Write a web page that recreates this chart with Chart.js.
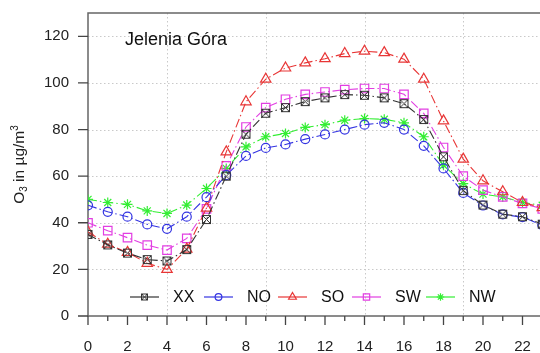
<!DOCTYPE html>
<html>
<head>
<meta charset="utf-8">
<script src="https://cdn.jsdelivr.net/npm/chart.js@4"></script>
<style>
  body { margin: 0; background: #fff; overflow: hidden; }
  #wrap { width: 540px; height: 353px; overflow: hidden; }
  canvas { display: block; }
</style>
</head>
<body>
<div id="wrap"><canvas id="chart" width="580" height="353"></canvas></div>
<script>
const STATION = 'Jelenia Góra';
const HOURS = [0, 1, 2, 3, 4, 5, 6, 7, 8, 9, 10, 11, 12, 13, 14, 15, 16, 17, 18, 19, 20, 21, 22, 23];
const Y_TICKS = [0, 20, 40, 60, 80, 100, 120];
const GRID_HOURS = [4, 9, 14, 19, 24];

// mean O3 per hour of day, by wind sector
const SECTORS = ['XX', 'NO', 'SO', 'SW', 'NW'];
const XX = [35, 30.5, 27, 24.2, 23.6, 28.5, 41.4, 60, 78, 87, 89.4, 92, 93.6, 95, 94.7, 93.6, 91.1, 84.3, 68.3, 53.8, 47.6, 43.7, 42.6, 39.4];
const NO = [47.5, 44.7, 42.6, 39.3, 37.4, 42.6, 51, 60.4, 68.7, 72.1, 73.6, 75.9, 77.9, 80, 82.1, 82.9, 80, 73, 63.3, 52.8, 47.4, 43.6, 42.4, 39];
const SO = [36, 30.8, 27.3, 22.6, 20, 28.7, 46.3, 70.4, 91.9, 101.6, 106.4, 108.6, 110.4, 112.6, 113.6, 113, 110.2, 101.6, 83.7, 67.3, 58, 53.3, 48.7, 46.5];
const SW = [40, 36.6, 33.6, 30.4, 28.3, 33.3, 46, 64.4, 81.1, 89.4, 93, 95.1, 96.1, 97.1, 97.6, 97.6, 95.1, 86.9, 72.3, 60, 54, 51.1, 48.3, 46];
const NW = [50, 48.7, 47.9, 45.1, 44, 47.6, 54.7, 63.3, 72.6, 76.9, 78.3, 80.9, 82.1, 84, 84.7, 84.4, 82.9, 76.9, 64.7, 56.8, 52.3, 51.1, 48.7, 47.5];
const VALUES = [XX, NO, SO, SW, NW];

const FONT = "'Liberation Sans', Arial, Helvetica, sans-serif";
const COLORS = ['#333333', '#3434e2', '#e83636', '#e23ee2', '#33ee33'];
const RADII = [5, 4.5, 6, 6, 5];

// square with a cross in it (R's pch 7)
function crossedSquare(side, color) {
    const c = document.createElement('canvas');
    c.width = c.height = side + 3;
    const g = c.getContext('2d');
    g.strokeStyle = color;
    g.lineWidth = 1;
    const a = 1.5, b = side + 1.5;
    g.strokeRect(a, a, side, side);
    g.beginPath();
    g.moveTo(a, a); g.lineTo(b, b);
    g.moveTo(b, a); g.lineTo(a, b);
    g.stroke();
    return c;
}

const STYLES = [crossedSquare(8, COLORS[0]), 'circle', 'triangle', 'rect', 'star'];
const LEGEND_STYLES = [crossedSquare(6, COLORS[0]), 'circle', 'triangle', 'rect', 'star'];

function buildDataset(k) {
    return {
        label: SECTORS[k],
        data: VALUES[k].map((v, i) => ({x: HOURS[i], y: v})),
        borderColor: COLORS[k],
        backgroundColor: 'rgba(0,0,0,0)',
        borderWidth: 1.1,
        borderDash: [9, 3, 1.5, 3],
        pointStyle: STYLES[k],
        pointRadius: RADII[k],
        pointBorderWidth: 1.2,
        pointBorderColor: COLORS[k],
        pointBackgroundColor: 'rgba(0,0,0,0)',
        tension: 0,
    };
}

// dotted grid, box and tick marks under the series
const backdrop = {
    id: 'backdrop',
    beforeDatasetsDraw(chart) {
        const {ctx, chartArea: a, scales: {x, y}} = chart;
        ctx.save();
        ctx.strokeStyle = '#c9c9c9';
        ctx.lineWidth = 1;
        ctx.setLineDash([1.5, 2.5]);
        ctx.beginPath();
        for (const v of Y_TICKS.slice(1)) {
            const py = Math.round(y.getPixelForValue(v)) + 0.5;
            ctx.moveTo(a.left, py); ctx.lineTo(a.right, py);
        }
        for (const h of GRID_HOURS) {
            const px = Math.round(x.getPixelForValue(h)) + 0.5;
            ctx.moveTo(px, a.top); ctx.lineTo(px, a.bottom);
        }
        ctx.stroke();
        ctx.setLineDash([]);

        ctx.strokeStyle = '#666';
        ctx.lineWidth = 1.5;
        ctx.strokeRect(a.left, a.top, a.right - a.left, a.bottom - a.top);

        ctx.strokeStyle = '#444';
        ctx.lineWidth = 1.3;
        ctx.beginPath();
        for (const v of Y_TICKS) {
            const py = y.getPixelForValue(v);
            ctx.moveTo(a.left - 10, py); ctx.lineTo(a.left, py);
        }
        for (const h of HOURS) {
            const px = x.getPixelForValue(h);
            ctx.moveTo(px, a.bottom); ctx.lineTo(px, a.bottom + (h % 2 ? 5 : 9));
        }
        ctx.stroke();
        ctx.restore();
    }
};

// station name, legend row and y axis title
const annotations = {
    id: 'annotations',
    afterDraw(chart) {
        const {ctx, chartArea: a} = chart;
        ctx.save();
        ctx.fillStyle = '#111';
        ctx.font = `18px ${FONT}`;
        ctx.textBaseline = 'alphabetic';
        ctx.fillText(STATION, a.left + 37, a.top + 32);

        ctx.font = `16px ${FONT}`;
        ctx.textBaseline = 'middle';
        const ly = a.bottom - 19;
        chart.data.datasets.forEach((ds, i) => {
            const x0 = a.left + 42 + 74 * i;
            ctx.strokeStyle = ds.borderColor;
            ctx.lineWidth = 1.2;
            ctx.setLineDash([]);
            ctx.beginPath();
            ctx.moveTo(x0, ly); ctx.lineTo(x0 + 29, ly);
            ctx.stroke();
            ctx.fillStyle = 'rgba(0,0,0,0)';
            Chart.helpers.drawPoint(ctx, {
                pointStyle: LEGEND_STYLES[i], radius: RADII[i] * 0.75, rotation: 0, borderWidth: 1.2,
            }, x0 + 14.5, ly);
            ctx.fillStyle = '#111';
            ctx.fillText(ds.label, x0 + 43, ly + 1);
        });

        ctx.translate(20, (a.top + a.bottom) / 2);
        ctx.rotate(-Math.PI / 2);
        const parts = [['O', 15.5, 0], ['3', 10, 4], [' in µg/m', 15.5, 0], ['3', 10, -5]];
        let total = 0;
        for (const [t, s] of parts) { ctx.font = `${s}px ${FONT}`; total += ctx.measureText(t).width; }
        let px = -total / 2;
        ctx.fillStyle = '#222';
        for (const [t, s, dy] of parts) {
            ctx.font = `${s}px ${FONT}`;
            ctx.fillText(t, px, dy);
            px += ctx.measureText(t).width;
        }
        ctx.restore();
    }
};

const tickFont = {family: FONT, size: 15};

// fixed axis sizes; the label padding must not push the plot box around
function fixBox(s, size) {
    if (s.isHorizontal()) s.height = size; else s.width = size;
    s.paddingTop = s.paddingBottom = s.paddingLeft = s.paddingRight = 0;
}

const config = {
    type: 'line',
    data: {datasets: SECTORS.map((s, k) => buildDataset(k))},
    options: {
        responsive: false,
        animation: false,
        layout: {padding: {top: 13, right: 18, left: 0, bottom: 0}},
        plugins: {legend: {display: false}, tooltip: {enabled: false}},
        scales: {
            x: {
                type: 'linear', min: 0, max: 24,
                grid: {display: false, drawTicks: false},
                border: {display: false},
                ticks: {
                    stepSize: 1, autoSkip: false, maxRotation: 0, includeBounds: false,
                    padding: 22, color: '#222', font: tickFont,
                    callback: (v) => (v % 2 === 0 && v < 24 ? v : ''),
                },
                afterFit: (s) => fixBox(s, 37),
            },
            y: {
                min: 0, max: 130,
                grid: {display: false, drawTicks: false},
                border: {display: false},
                ticks: {stepSize: 20, includeBounds: false, padding: 19, color: '#222', font: tickFont},
                afterFit: (s) => fixBox(s, 88),
            },
        },
    },
    plugins: [backdrop, annotations],
};

new Chart('chart', config);
</script>
</body>
</html>
